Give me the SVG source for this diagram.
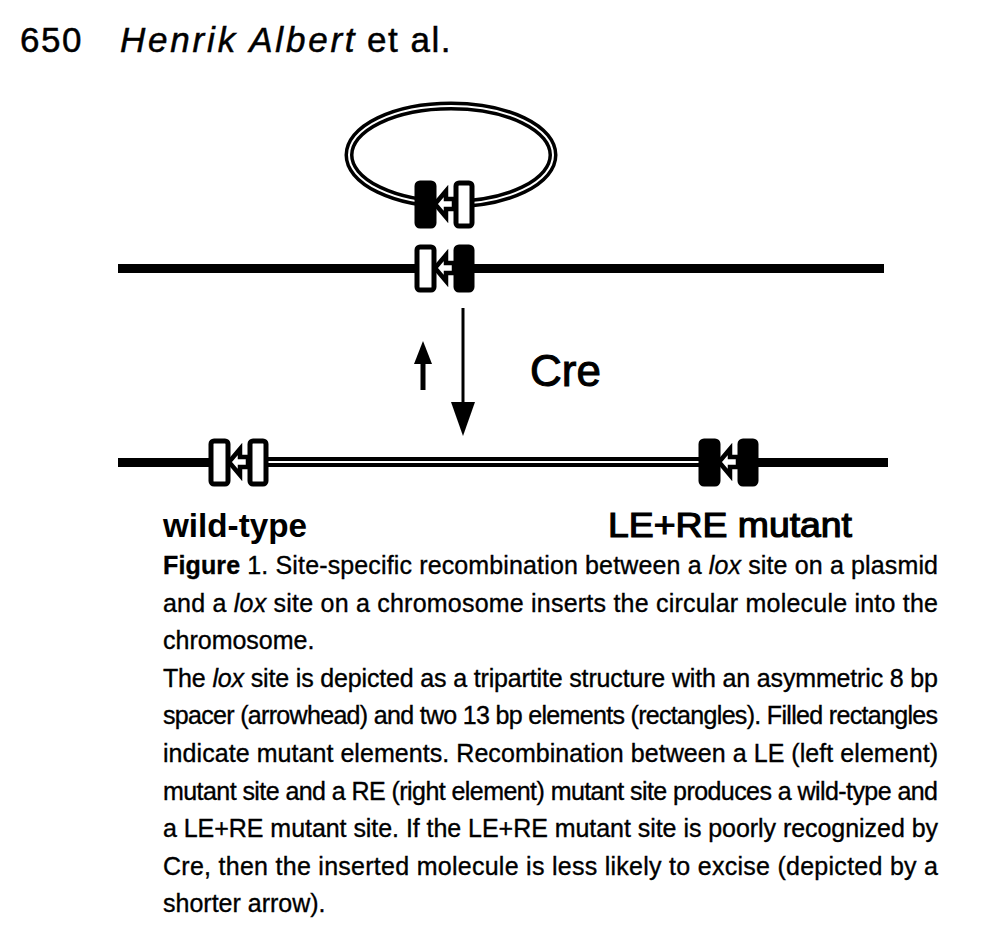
<svg xmlns="http://www.w3.org/2000/svg" width="994" height="947" viewBox="0 0 994 947">
<style>
.t{font-family:"Liberation Sans",Arial,Helvetica,sans-serif;fill:#000}
.hd{font-size:35px;letter-spacing:1.5px;stroke:#000;stroke-width:0.5}
.cap{font-size:25px;stroke:#000;stroke-width:0.35}
.lab{font-size:34px;font-weight:bold}
.open{fill:#fff;stroke:#000;stroke-width:5}
.fill{fill:#000;stroke:#000;stroke-width:5}
.sp{fill:#fff;stroke:#000;stroke-width:4.5;stroke-linejoin:miter}
</style>
<defs>
<g id="spacer"><polygon class="sp" points="-10,0 1,-13 1,-5 9,-5 9,5 1,5 1,13"/></g>
<rect id="L-open" class="open" x="-28" y="-21" width="17" height="43" rx="3"/>
<rect id="L-fill" class="fill" x="-28" y="-21" width="17" height="43" rx="3"/>
<rect id="R-open" class="open" x="11" y="-21" width="16" height="43" rx="3"/>
<rect id="R-fill" class="fill" x="11" y="-21" width="16" height="43" rx="3"/>
</defs>
<rect width="994" height="947" fill="#fff"/>
<g id="header">
<text class="t hd" x="20" y="52">650</text>
<text class="t hd" x="120" y="52" style="font-style:italic;letter-spacing:2.8px">Henrik Albert</text>
<text class="t hd" x="367" y="52">et al.</text>
</g>
<g id="plasmid">
<ellipse cx="451" cy="155" rx="102" ry="49" fill="none" stroke="#000" stroke-width="9"/>
<ellipse cx="451" cy="155" rx="102" ry="49" fill="none" stroke="#fff" stroke-width="2"/>
</g>
<g id="lox-plasmid" transform="translate(445,204)">
<use href="#L-fill"/><use href="#spacer"/><use href="#R-open"/>
</g>
<g id="chromosome-top">
<rect x="118" y="264" width="766" height="9" fill="#000"/>
</g>
<g id="lox-chromosome" transform="translate(445,268)">
<use href="#L-open"/><use href="#spacer"/><use href="#R-fill"/>
</g>
<g id="connectors">
<line x1="463" y1="308" x2="463" y2="406" stroke="#000" stroke-width="3"/>
<polygon points="451,402 475,402 463,436" fill="#000"/>
<line x1="423" y1="390" x2="423" y2="360" stroke="#000" stroke-width="5"/>
<polygon points="414,364 432,364 423,341" fill="#000"/>
</g>
<g id="cre-label">
<text class="t" x="530" y="386" font-size="44" stroke="#000" stroke-width="1">Cre</text>
</g>
<g id="chromosome-bottom">
<rect x="118" y="458" width="100" height="9" fill="#000"/>
<rect x="260" y="457" width="450" height="10" fill="#000"/>
<rect x="260" y="461" width="450" height="2" fill="#fff"/>
<rect x="750" y="458" width="138" height="9" fill="#000"/>
</g>
<g id="lox-wildtype" transform="translate(239,462)">
<use href="#L-open"/><use href="#spacer"/><use href="#R-open"/>
</g>
<g id="lox-mutant" transform="translate(729,462)">
<use href="#L-fill"/><use href="#spacer"/><use href="#R-fill"/>
</g>
<g id="labels">
<text class="t lab" x="163" y="537" textLength="144" lengthAdjust="spacingAndGlyphs">wild-type</text>
<text class="t" x="608" y="537" font-size="35" stroke="#000" stroke-width="1.2" textLength="244" lengthAdjust="spacingAndGlyphs">LE+RE mutant</text>
</g>
<g id="caption" class="t cap">
<text x="163" y="574" textLength="775" lengthAdjust="spacing"><tspan font-weight="bold">Figure</tspan> 1. Site-specific recombination between a <tspan font-style="italic">lox</tspan> site on a plasmid</text>
<text x="163" y="611.6" textLength="775" lengthAdjust="spacing">and a <tspan font-style="italic">lox</tspan> site on a chromosome inserts the circular molecule into the</text>
<text x="163" y="649.2">chromosome.</text>
<text x="163" y="686.8" textLength="775" lengthAdjust="spacing">The <tspan font-style="italic">lox</tspan> site is depicted as a tripartite structure with an asymmetric 8 bp</text>
<text x="163" y="724.4" textLength="775" lengthAdjust="spacing">spacer (arrowhead) and two 13 bp elements (rectangles). Filled rectangles</text>
<text x="163" y="762" textLength="775" lengthAdjust="spacing">indicate mutant elements. Recombination between a LE (left element)</text>
<text x="163" y="799.6" textLength="775" lengthAdjust="spacing">mutant site and a RE (right element) mutant site produces a wild-type and</text>
<text x="163" y="837.2" textLength="775" lengthAdjust="spacing">a LE+RE mutant site. If the LE+RE mutant site is poorly recognized by</text>
<text x="163" y="874.8" textLength="775" lengthAdjust="spacing">Cre, then the inserted molecule is less likely to excise (depicted by a</text>
<text x="163" y="912.4">shorter arrow).</text>
</g>
</svg>
